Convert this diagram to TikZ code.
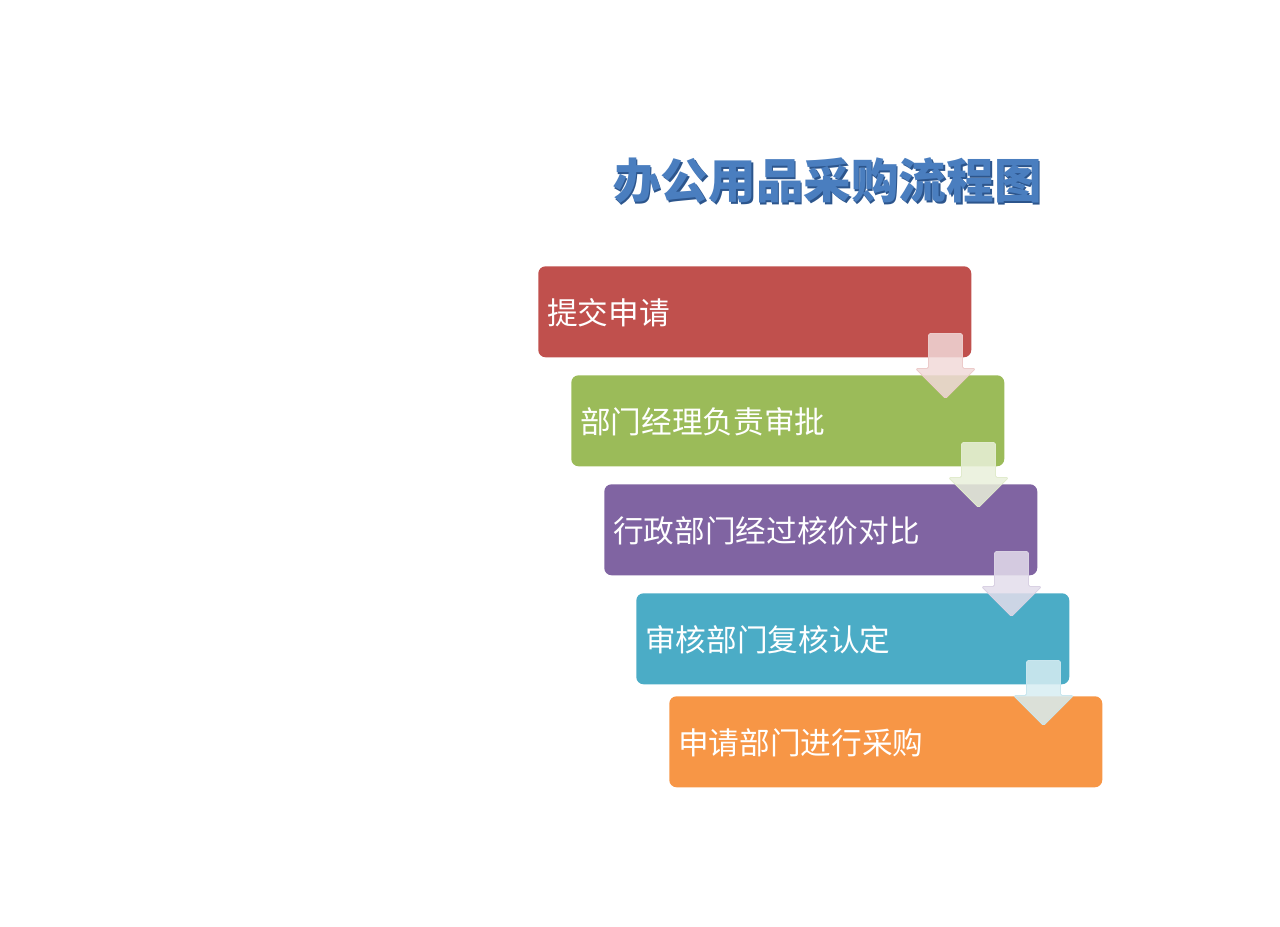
\documentclass[tikz,border=0pt]{standalone}
\usepackage{fontspec}
\newfontfamily\cjk{Noto Sans CJK SC}
\definecolor{cA}{HTML}{C0504D}
\definecolor{cB}{HTML}{9BBB59}
\definecolor{cC}{HTML}{8064A2}
\definecolor{cD}{HTML}{4BACC6}
\definecolor{cE}{HTML}{F79646}
\definecolor{titleblue}{HTML}{4A7EBF}
\definecolor{titledark}{HTML}{2C558C}
\tikzset{
  stepbox/.style={rounded corners=5.5pt, minimum width=324.75pt, minimum height=68.25pt, inner sep=0pt, draw=none},
  steptext/.style={anchor=west, inner sep=0pt, text=white, font=\cjk\fontsize{23}{26}\selectfont},
  downarrow/.style={rounded corners=1.2pt, line width=0.6pt, fill opacity=0.85}
}
\begin{document}
\begin{tikzpicture}[x=0.75pt,y=-0.75pt]
\useasboundingbox (0,0) rectangle (1280,926);
% title
\node[font=\cjk\bfseries\fontsize{35.7}{40}\selectfont, text=titledark, inner sep=0pt] (titleshadow) at (829,183) {办公用品采购流程图};
\node[font=\cjk\bfseries\fontsize{35.7}{40}\selectfont, text=titleblue, inner sep=0pt] (title) at (827.5,181) {办公用品采购流程图};
% boxes
\node[stepbox, fill=cA, anchor=north west] (b1) at (538,266) {};
\node[stepbox, fill=cB, anchor=north west] (b2) at (571,375) {};
\node[stepbox, fill=cC, anchor=north west] (b3) at (604,484) {};
\node[stepbox, fill=cD, anchor=north west] (b4) at (636,593) {};
\node[stepbox, fill=cE, anchor=north west] (b5) at (669,696) {};
\node[steptext] (t1) at ([xshift=6.75pt,yshift=-0.75pt]b1.west) {提交申请};
\node[steptext] (t2) at ([xshift=6.75pt,yshift=-0.75pt]b2.west) {部门经理负责审批};
\node[steptext] (t3) at ([xshift=6.75pt,yshift=-0.75pt]b3.west) {行政部门经过核价对比};
\node[steptext] (t4) at ([xshift=6.75pt,yshift=-0.75pt]b4.west) {审核部门复核认定};
\node[steptext] (t5) at ([xshift=6.75pt,yshift=-0.75pt]b5.west) {申请部门进行采购};
% arrows
\foreach \b/\c in {b1/cA,b2/cB,b3/cC,b4/cD}{
  \begin{scope}[shift={(\b.south east)}]
    \draw[downarrow, fill=\c!22!white, draw=\c!30!white]
      (-43,-24) -- (-9,-24) -- (-9,11) -- (4,11) -- (-26,41) -- (-56,11) -- (-43,11) -- cycle;
  \end{scope}
}
\end{tikzpicture}
\end{document}
